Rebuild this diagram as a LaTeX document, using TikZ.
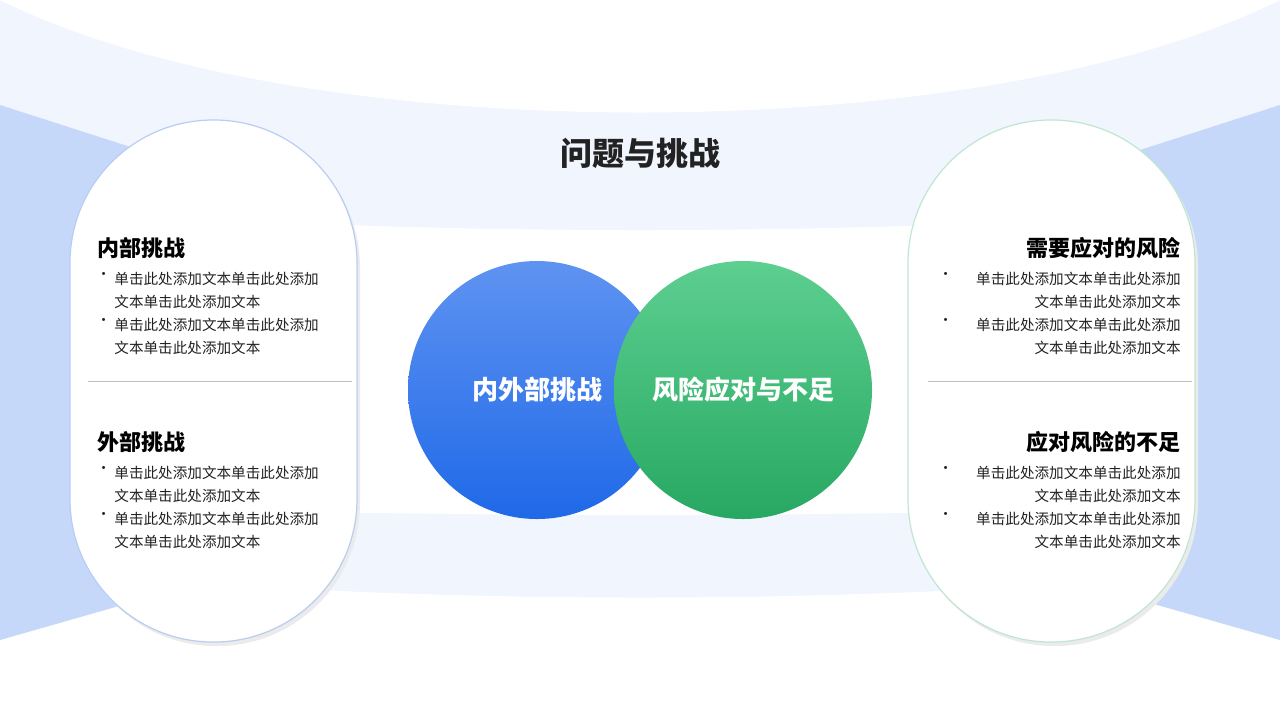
\documentclass[tikz,border=0pt]{standalone}
\usepackage{fontspec}
\setmainfont{Noto Sans CJK SC}
\usetikzlibrary{positioning}
\definecolor{bandblue}{HTML}{EAF1FD}
\definecolor{sideblue}{HTML}{C5D8FA}
\definecolor{pillblue}{HTML}{B9CDF3}
\definecolor{pillgreen}{HTML}{BFE6D0}
\definecolor{topblue}{HTML}{5F93F1}
\definecolor{botblue}{HTML}{1F69E8}
\definecolor{topgreen}{HTML}{5DCF90}
\definecolor{botgreen}{HTML}{27A862}
\definecolor{txt}{HTML}{222222}
\begin{document}
\begin{tikzpicture}[x=0.5pt, y=-0.5pt,
  pill/.style={rounded corners=71.5pt, fill=white, line width=0.6pt},
  heading/.style={font=\fontsize{11}{13}\selectfont\bfseries, text=black, inner sep=0pt},
  item/.style={font=\fontsize{7.3}{11.5}\selectfont, text=txt, inner sep=0pt, text width=115pt},
  dot/.style={font=\fontsize{7.3}{11.5}\selectfont, text=txt, inner sep=0pt},
  bigcirc/.style={circle, minimum size=129pt, inner sep=0pt, shading=axis, shading angle=45}]
  \useasboundingbox (0,0) rectangle (1280,720);
  % background bands
  \fill[bandblue!70] (0,0) .. controls (300,120) and (980,120) .. (1280,0) -- (1280,200) .. controls (980,240) and (300,240) .. (0,200) -- cycle;
  \fill[bandblue!70] (0,500) .. controls (300,520) and (980,520) .. (1280,500) -- (1280,720) -- (0,720) -- cycle;
  \fill[white] (0,560) .. controls (300,610) and (980,610) .. (1280,560) -- (1280,720) -- (0,720) -- cycle;
  \fill[white] (0,0) .. controls (300,150) and (980,150) .. (1280,0) -- cycle;
  \fill[sideblue] (0,105) -- (140,150) -- (140,600) -- (0,640) -- cycle;
  \fill[sideblue] (1280,105) -- (1140,150) -- (1140,600) -- (1280,640) -- cycle;

  % pills
  \fill[black!8, rounded corners=71.5pt] (73,124) rectangle (360,646);
  \draw[pill, draw=pillblue] (70,120) rectangle (357,642);
  \fill[black!8, rounded corners=71.5pt] (911,124) rectangle (1198,646);
  \draw[pill, draw=pillgreen] (908,120) rectangle (1195,642);
  \draw[black!25, line width=0.5pt] (88,381) -- (352,381);
  \draw[black!25, line width=0.5pt] (928,381) -- (1192,381);

  \node[font=\fontsize{16}{18}\selectfont\bfseries, text=txt] (title) at (640,153) {问题与挑战};

  % circles
  \node[bigcirc, top color=topblue, bottom color=botblue] (inner) at (537,390) {};
  \node[bigcirc, top color=topgreen, bottom color=botgreen] (risk) at (743,390) {};
  \node[text=white, font=\fontsize{13}{15}\selectfont\bfseries] at (inner) {内外部挑战};
  \node[text=white, font=\fontsize{13}{15}\selectfont\bfseries] at (risk) {风险应对与不足};

  % left texts
  \node[heading, anchor=west] (intl) at (97,248) {内部挑战};
  \node[item, anchor=north west] (l1) at (114,272) {单击此处添加文本单击此处添加\\文本单击此处添加文本};
  \node[dot, anchor=north west] at (96,272) {•};
  \node[item, anchor=north west] (l2) at (114,318) {单击此处添加文本单击此处添加\\文本单击此处添加文本};
  \node[dot, anchor=north west] at (96,318) {•};
  \node[heading, anchor=west] (extl) at (97,442) {外部挑战};
  \node[item, anchor=north west] (l3) at (114,466) {单击此处添加文本单击此处添加\\文本单击此处添加文本};
  \node[dot, anchor=north west] at (96,466) {•};
  \node[item, anchor=north west] (l4) at (114,512) {单击此处添加文本单击此处添加\\文本单击此处添加文本};
  \node[dot, anchor=north west] at (96,512) {•};

  % right texts
  \node[heading, anchor=east] (need) at (1181,248) {需要应对的风险};
  \node[item, align=right, anchor=north east] (r1) at (1181,272) {单击此处添加文本单击此处添加\\文本单击此处添加文本};
  \node[dot, anchor=north west] at (938,272) {•};
  \node[item, align=right, anchor=north east] (r2) at (1181,318) {单击此处添加文本单击此处添加\\文本单击此处添加文本};
  \node[dot, anchor=north west] at (938,318) {•};
  \node[heading, anchor=east] (lack) at (1181,442) {应对风险的不足};
  \node[item, align=right, anchor=north east] (r3) at (1181,466) {单击此处添加文本单击此处添加\\文本单击此处添加文本};
  \node[dot, anchor=north west] at (938,466) {•};
  \node[item, align=right, anchor=north east] (r4) at (1181,512) {单击此处添加文本单击此处添加\\文本单击此处添加文本};
  \node[dot, anchor=north west] at (938,512) {•};
\end{tikzpicture}
\end{document}
